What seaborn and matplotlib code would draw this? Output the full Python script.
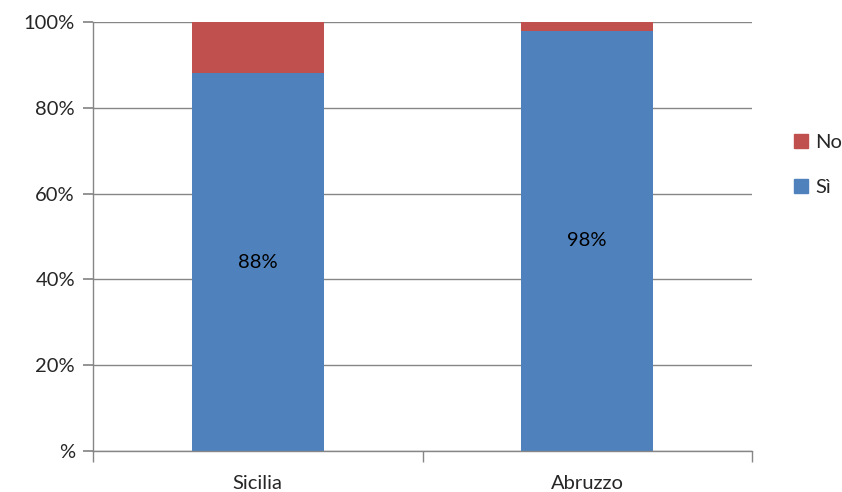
import matplotlib
matplotlib.use("Agg")
import matplotlib.pyplot as plt
import matplotlib.patches as mpatches
from matplotlib.ticker import FixedLocator
import seaborn as sns
import pandas as pd

# dati
regioni = ["Sicilia", "Abruzzo"]
si_pct = [88, 98]
no_pct = [12, 2]
y_ticks = [0, 20, 40, 60, 80, 100]
y_labels = ["%", "20%", "40%", "60%", "80%", "100%"]

blu = "#4F81BD"
rosso = "#C0504D"
grigio = "#868686"

sns.set_theme(style="white")
plt.rcParams["font.family"] = ["Lato", "DejaVu Sans"]

df = pd.DataFrame({"regione": regioni, "si": si_pct, "no": no_pct})
df["totale"] = df["si"] + df["no"]

fig = plt.figure(figsize=(8.42, 4.92), dpi=100)
ax = fig.add_axes([93 / 842, 1 - 451 / 492, 659 / 842, 429 / 492])

sns.barplot(data=df, x="regione", y="totale", color=rosso, width=0.4,
            saturation=1, linewidth=0, ax=ax)
sns.barplot(data=df, x="regione", y="si", color=blu, width=0.4,
            saturation=1, linewidth=0, ax=ax)

for i, v in enumerate(si_pct):
    ax.text(i, v / 2, f"{v}%", ha="center", va="center", fontsize=14.5, color="black")

ax.set_xlim(-0.5, 1.5)
ax.set_ylim(0, 100)
ax.set_yticks(y_ticks)
ax.set_yticklabels(y_labels, fontsize=14.5)
ax.yaxis.grid(True, color=grigio, linewidth=1)
ax.set_axisbelow(True)
ax.set_xlabel("")
ax.set_ylabel("")

for s in ["top", "right"]:
    ax.spines[s].set_visible(False)
for s in ["left", "bottom"]:
    ax.spines[s].set_color(grigio)
    ax.spines[s].set_linewidth(1)

ax.tick_params(axis="y", direction="out", length=7, color=grigio, left=True, pad=6)
ax.tick_params(axis="x", which="major", length=0, pad=17, labelsize=14.5)
ax.xaxis.set_minor_locator(FixedLocator([-0.5, 0.5, 1.5]))
ax.tick_params(axis="x", which="minor", direction="out", length=8, color=grigio, bottom=True)

handles = [mpatches.Patch(color=rosso, label="No"), mpatches.Patch(color=blu, label="Sì")]
fig.legend(handles=handles, loc="center left", bbox_to_anchor=(794 / 842, 1 - 165 / 492),
           frameon=False, fontsize=14.5, handlelength=0.7, handleheight=0.7,
           handletextpad=0.35, labelspacing=1.35, borderaxespad=0, borderpad=0)

fig.savefig("out.png", dpi=100)
